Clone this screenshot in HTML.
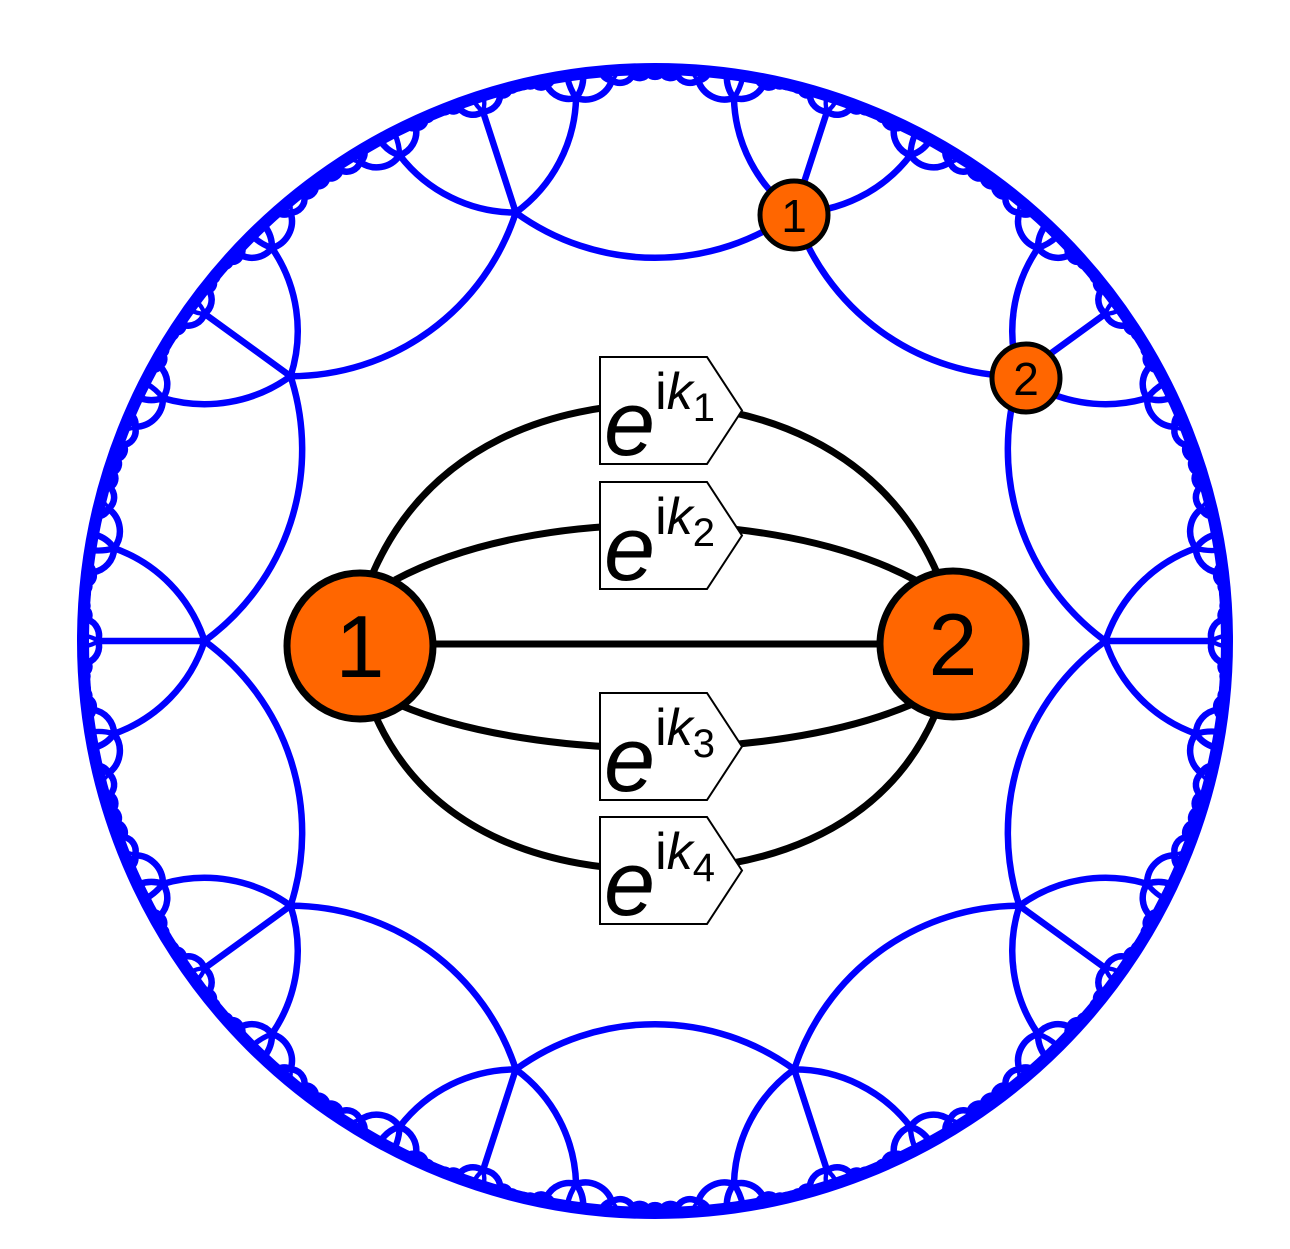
<!DOCTYPE html>
<html><head><meta charset="utf-8"><style>
html,body{margin:0;padding:0;background:#fff;}
svg{display:block;}
text{font-family:"Liberation Sans",sans-serif;}
</style></head><body>
<svg id="fig" width="1290" height="1249" viewBox="0 0 1290 1249">
<g id="tiling" fill="none" stroke="#0000ff" stroke-linecap="round"></g>
<circle cx="655" cy="641" r="572" fill="none" stroke="#0000ff" stroke-width="12"/>
<g fill="none" stroke="#000" stroke-width="7">
<path d="M372,575 C430,440 560,405 655,404 C750,405 880,440 938,575"/>
<path d="M395,580 C470,540 570,525 655,525 C740,525 840,540 915,580"/>
<line x1="360" y1="644" x2="953" y2="644"/>
<path d="M400,705 C470,735 570,748 655,748 C740,748 840,735 910,705"/>
<path d="M375,715 C430,840 560,870 655,870 C750,870 880,840 935,715"/>
</g>
<g id="labels"></g>
<g>
<circle cx="360" cy="646" r="73" fill="#ff6600" stroke="#000" stroke-width="7"/>
<text x="360" y="677" font-size="88" text-anchor="middle">1</text></g>
<g>
<circle cx="953" cy="644" r="73" fill="#ff6600" stroke="#000" stroke-width="7"/>
<text x="953" y="675" font-size="88" text-anchor="middle">2</text></g>
<g>
<circle cx="794" cy="215" r="34" fill="#ff6600" stroke="#000" stroke-width="5"/>
<text x="794" y="232" font-size="46" text-anchor="middle">1</text></g>
<g>
<circle cx="1026" cy="378" r="34" fill="#ff6600" stroke="#000" stroke-width="5"/>
<text x="1026" y="395" font-size="46" text-anchor="middle">2</text></g>
</svg>
<script>
const NS="http://www.w3.org/2000/svg";
const P=10, Q=5;
const CX=655, CY=641, RD=573;
const labelSubs=["1","2","3","4"];
const labelTops=[357,482,693,817];

const coshR=1/(Math.tan(Math.PI/P)*Math.tan(Math.PI/Q));
const r0=Math.tanh(Math.acosh(coshR)/2);
function inv(z,c,r2){const dx=z[0]-c[0],dy=z[1]-c[1];const d=dx*dx+dy*dy;return [c[0]+r2*dx/d,c[1]+r2*dy/d];}
function geo(a,b){
  const cr=a[0]*b[1]-a[1]*b[0];
  if(Math.abs(cr)<1e-9) return null;
  const A=(a[0]*a[0]+a[1]*a[1]+1)/2, B=(b[0]*b[0]+b[1]*b[1]+1)/2;
  const cx=(A*b[1]-B*a[1])/cr, cy=(a[0]*B-b[0]*A)/cr;
  return {c:[cx,cy],r2:cx*cx+cy*cy-1};
}
function refl(z,a,b){
  const g=geo(a,b);
  if(!g){const L=Math.hypot(a[0]-b[0],a[1]-b[1]);const ux=(b[0]-a[0])/L,uy=(b[1]-a[1])/L;const t=z[0]*ux+z[1]*uy;return [2*t*ux-z[0],2*t*uy-z[1]];}
  return inv(z,g.c,g.r2);
}
const start=[];for(let k=0;k<P;k++){const t=k*2*Math.PI/P;start.push([r0*Math.cos(t),r0*Math.sin(t)]);}
const tiles=[{v:start,c:[0,0]}];const seen=new Set(["0,0"]);
let frontier=[tiles[0]];
for(let depth=0;depth<6;depth++){
  const next=[];
  for(const t of frontier){
    for(let i=0;i<P;i++){
      const a=t.v[i],b=t.v[(i+1)%P];
      const c=refl(t.c,a,b);
      const key=Math.round(c[0]*2e4)+","+Math.round(c[1]*2e4);
      if(seen.has(key))continue;seen.add(key);
      const v=t.v.map(z=>refl(z,a,b));
      let mx=0;for(const z of v){mx=Math.max(mx,Math.hypot(z[0]-c[0],z[1]-c[1]));}
      if(mx*RD<2.5)continue;
      const nt={v:v,c:c,s:mx*RD};tiles.push(nt);next.push(nt);
    }
  }
  frontier=next;
}
const g=document.getElementById('tiling');
const drawn=new Set();
function sx(z){return CX+z[0]*RD;} function sy(z){return CY-z[1]*RD;}
for(const t of tiles){
  const w=Math.min(6.5,(t.s||1000)/4);
  for(let i=0;i<P;i++){
    const a=t.v[i],b=t.v[(i+1)%P];
    const k1=Math.round(a[0]*1e4)+","+Math.round(a[1]*1e4),k2=Math.round(b[0]*1e4)+","+Math.round(b[1]*1e4);
    const key=k1<k2?k1+"|"+k2:k2+"|"+k1;
    if(drawn.has(key))continue;drawn.add(key);
    const gc=geo(a,b);let d;
    if(!gc){d=`M${sx(a)},${sy(a)}L${sx(b)},${sy(b)}`;}
    else{
      const r=Math.sqrt(gc.r2)*RD;
      const ax=sx(a),ay=sy(a),bx=sx(b),by=sy(b),ccx=sx(gc.c),ccy=sy(gc.c);
      const cr=(ax-ccx)*(by-ccy)-(ay-ccy)*(bx-ccx);
      d=`M${ax.toFixed(2)},${ay.toFixed(2)}A${r.toFixed(2)},${r.toFixed(2)} 0 0 ${cr>0?1:0} ${bx.toFixed(2)},${by.toFixed(2)}`;
    }
    const p=document.createElementNS(NS,'path');
    p.setAttribute('d',d);p.setAttribute('stroke-width',w.toFixed(2));
    
    
    g.appendChild(p);
  }
}
const lg=document.getElementById('labels');
labelSubs.forEach((s,i)=>{
  const y=labelTops[i],h=107;
  const grp=document.createElementNS(NS,'g');
  
  
  const poly=document.createElementNS(NS,'polygon');
  poly.setAttribute('points',`600,${y} 707,${y} 742,${y+h/2} 707,${y+h} 600,${y+h}`);
  poly.setAttribute('fill','#fff');poly.setAttribute('stroke','#000');poly.setAttribute('stroke-width','2');
  grp.appendChild(poly);
  const tx=document.createElementNS(NS,'text');
  tx.setAttribute('x','604');tx.setAttribute('y',String(y+98));
  tx.innerHTML=`<tspan font-size="92" font-style="italic">e</tspan><tspan font-size="52" dy="-46">i</tspan><tspan font-size="52" font-style="italic">k</tspan><tspan font-size="40" dy="12">${s}</tspan>`;
  grp.appendChild(tx);
  lg.appendChild(grp);
});
</script>
</body></html>
